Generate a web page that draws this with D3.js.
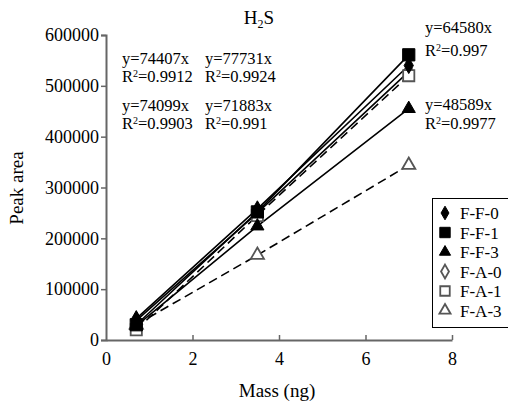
<!DOCTYPE html>
<html>
<head>
<meta charset="utf-8">
<script src="https://cdn.jsdelivr.net/npm/d3@7"></script>
<style>
  body { margin: 0; background: #fff; }
  text { font-family: "Liberation Serif", "Times New Roman", serif; fill: #000; }
</style>
</head>
<body>
<svg id="chart" width="508" height="402"></svg>
<script>
// masses (ng)
const mass = [0.7, 3.5, 7.0];

const seriesNames = ["F-F-0", "F-F-1", "F-F-3", "F-A-0", "F-A-1", "F-A-3"];
const ff0 = [42000, 258000, 540000];
const ff1 = [30000, 252000, 561000];
const ff3 = [28000, 224000, 455000];
const fa0 = [38000, 250000, 528000];
const fa1 = [20000, 245000, 520000];
const fa3 = [30000, 167000, 344000];
const seriesValues = [ff0, ff1, ff3, fa0, fa1, fa3];

const xTicks = [0, 2, 4, 6, 8];
const yTicks = [0, 100000, 200000, 300000, 400000, 500000, 600000];

// fit equations as printed on the chart
const eqText = ["y=74407x", "y=77731x", "y=74099x", "y=71883x", "y=64580x", "y=48589x"];
const r2Text = ["0.9912", "0.9924", "0.9903", "0.991", "0.997", "0.9977"];

const svg = d3.select("#chart");
const x = d3.scaleLinear().domain([0, 8]).range([106, 452]);
const y = d3.scaleLinear().domain([0, 600000]).range([340, 35]);

const axisColor = "#666";

// y axis
const yAxis = svg.append("g")
    .attr("transform", "translate(106,0)")
    .call(d3.axisLeft(y).tickValues(yTicks).tickSize(5).tickPadding(2).tickFormat(d3.format("d")));
yAxis.select(".domain").attr("stroke", axisColor).attr("stroke-width", 2);
yAxis.selectAll(".tick line").attr("stroke", axisColor).attr("stroke-width", 1.5);
yAxis.selectAll(".tick text").style("font-size", "18px").style("font-family", "Liberation Serif").attr("fill", "#111");

// x axis, ticks pointing up into the plot
const xAxis = svg.append("g")
    .attr("transform", "translate(0,340)")
    .call(d3.axisBottom(x).tickValues(xTicks).tickSizeInner(-5).tickSizeOuter(0).tickPadding(12));
xAxis.select(".domain").attr("stroke", axisColor).attr("stroke-width", 2);
xAxis.selectAll(".tick line").attr("stroke", axisColor).attr("stroke-width", 1.5);
xAxis.selectAll(".tick text").style("font-size", "18px").style("font-family", "Liberation Serif").attr("fill", "#111");
xAxis.selectAll(".tick").filter(d => d === 0).select("line").remove();

// lines
const dashes = [null, null, null, null, "9,5", "9,5"];
const line = d3.line().x((d, i) => x(mass[i])).y(d => y(d));
seriesValues.forEach((vals, k) => {
    svg.append("path")
        .datum(vals)
        .attr("fill", "none")
        .attr("stroke", "#000")
        .attr("stroke-width", 1.6)
        .attr("stroke-dasharray", dashes[k])
        .attr("d", line);
});

// markers
const shapes = [d3.symbolDiamond, d3.symbolSquare, d3.symbolTriangle, d3.symbolDiamond, d3.symbolSquare, d3.symbolTriangle];
const filled = [true, true, true, false, false, false];
const shapeScale = [0.6, 1.2, 0.6, 0.6, 1.0, 0.6];
function marker(g, k, size) {
    return g.append("path")
        .attr("d", d3.symbol().type(shapes[k]).size(size * shapeScale[k])())
        .attr("fill", filled[k] ? "#000" : "#fff")
        .attr("stroke", filled[k] ? "#000" : "#555")
        .attr("stroke-width", filled[k] ? 1 : 1.8);
}
// draw open markers first so filled ones sit on top
[3, 4, 5, 0, 1, 2].forEach(k => {
    seriesValues[k].forEach((v, i) => {
        const g = svg.append("g").attr("transform", `translate(${x(mass[i])},${y(v)})`);
        marker(g, k, 125);
    });
});

// title H2S
const title = svg.append("text").attr("x", 259).attr("y", 24).attr("text-anchor", "middle").style("font-size", "19px");
title.append("tspan").text("H");
title.append("tspan").attr("dy", 4).style("font-size", "12px").text("2");
title.append("tspan").attr("dy", -4).text("S");

// equation annotations
const eqPos = [[122, 64, 82], [205, 64, 82], [122, 111, 129], [205, 111, 129], [425, 33, 56], [425, 110, 129]];
eqPos.forEach((p, k) => {
    svg.append("text").attr("x", p[0]).attr("y", p[1]).style("font-size", "16.5px").text(eqText[k]);
    const t = svg.append("text").attr("x", p[0]).attr("y", p[2]).style("font-size", "16.5px");
    t.append("tspan").text("R");
    t.append("tspan").attr("dy", -5).style("font-size", "10px").text("2");
    t.append("tspan").attr("dy", 5).text("=" + r2Text[k]);
});

// axis titles
svg.append("text").attr("x", 277).attr("y", 397).attr("text-anchor", "middle").style("font-size", "19px").text("Mass (ng)");
svg.append("text").attr("transform", "translate(23,188) rotate(-90)").attr("text-anchor", "middle").style("font-size", "19px").text("Peak area");

// legend
const legend = svg.append("g").attr("transform", "translate(432,198)");
legend.append("rect").attr("x", 0.5).attr("y", 0.5).attr("width", 80).attr("height", 129)
    .attr("fill", "#fff").attr("stroke", "#000").attr("stroke-width", 1);
seriesNames.forEach((name, k) => {
    const row = legend.append("g").attr("transform", `translate(13,${15 + k * 19.5})`);
    marker(row, k, 90);
    row.append("text").attr("x", 15).attr("y", 6).style("font-size", "17px").text(name);
});
</script>
</body>
</html>
